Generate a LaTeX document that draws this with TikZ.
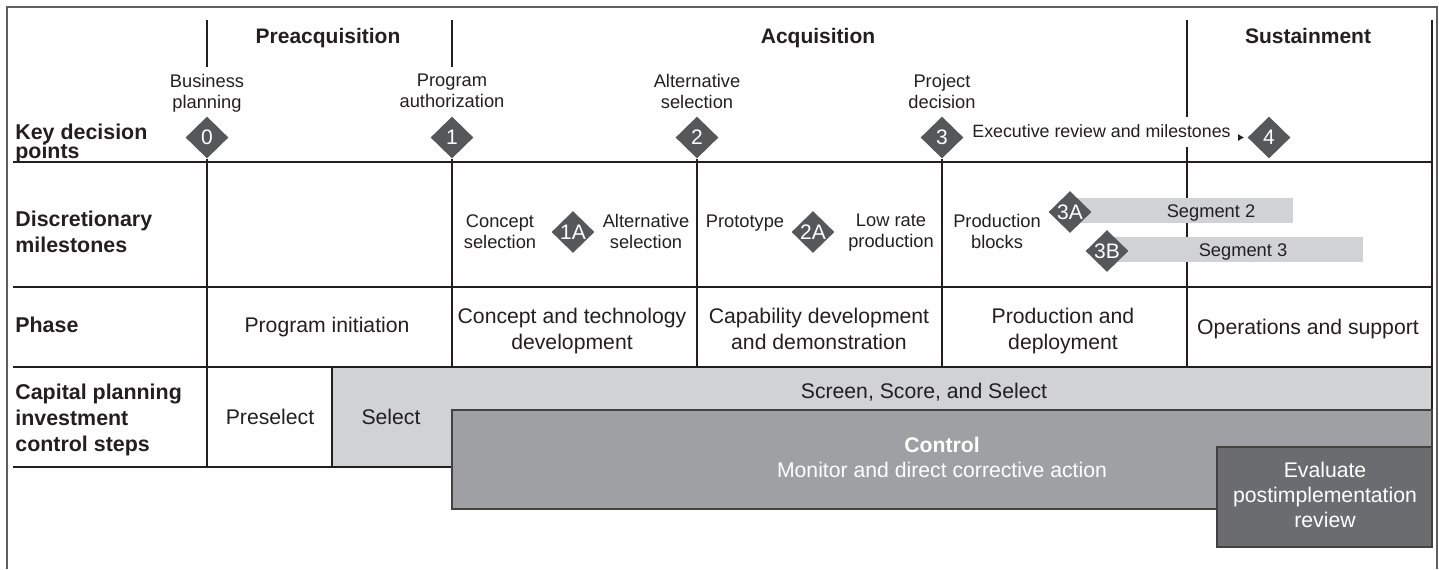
\documentclass[tikz,border=0pt]{standalone}
\usepackage{fontspec}
\setmainfont{Liberation Sans}
\usetikzlibrary{shapes.geometric, arrows.meta}

\definecolor{inkdark}{HTML}{231F20}
\definecolor{kdgray}{HTML}{565759}
\definecolor{barlight}{HTML}{D1D2D4}
\definecolor{ctrlgray}{HTML}{9FA0A3}
\definecolor{evalgray}{HTML}{6B6C6F}
\definecolor{framegray}{HTML}{5E5E5E}

\tikzset{
  gridline/.style={draw=inkdark, line width=0.6pt},
  boxline/.style={draw=inkdark!85, line width=0.7pt},
  kd/.style={diamond, fill=kdgray, text=white, inner sep=0pt, minimum width=21.5pt, minimum height=21pt, font=\fontsize{10.5}{12}\selectfont},
  rowlabel/.style={anchor=north west, align=left, inner sep=0pt, font=\fontsize{10.7}{13}\selectfont\bfseries},
  header/.style={anchor=base, inner sep=0pt, font=\fontsize{10.5}{12}\selectfont\bfseries},
  kdlabel/.style={anchor=north, align=center, inner sep=0pt, font=\fontsize{9.15}{10.5}\selectfont},
  phasetext/.style={anchor=north, align=center, inner sep=0pt, font=\fontsize{10.6}{13}\selectfont},
}

\begin{document}
\begin{tikzpicture}[x=0.5pt, y=-0.5pt, text=inkdark]
\useasboundingbox (0,0) rectangle (1439,569);

% frame
\draw[framegray, line width=1pt] (7,569) -- (7,7) -- (1437,7) -- (1437,569);

% table rules
\coordinate (phasebot) at (0,367);
\coordinate (cpicbot) at (0,467);
\foreach \y in {162,287,367}
  \draw[gridline] (13,\y) -- (1432,\y);
\draw[gridline] (13,467) -- (332,467);
\foreach \x in {207,452}
  \draw[gridline] (\x,20) -- (\x,67);
\draw[gridline] (1187,20) -- (1187,367);
\draw[gridline] (1432,20) -- (1432,367);

% headers
\node[header] (preacq) at (328,43) {Preacquisition};
\node[header] (acq) at (818,43) {Acquisition};
\node[header] (sustain) at (1308,43) {Sustainment};

% row labels
\node[rowlabel, anchor=base west] (kdrow) at (15,139) {Key decision};
\node[rowlabel, anchor=base west] (kdrowb) at (15,158) {points};
\node[rowlabel] (dmrow) at (15,211) {Discretionary\\milestones};
\node[rowlabel, anchor=base west] (phaserow) at (15,332) {Phase};
\node[rowlabel] (cpicrow) at (15,384) {Capital planning\\investment\\control steps};

% key decision points
\node[kd] (kd0) at (207,137.5) {0};
\node[kd] (kd1) at (452,137.5) {1};
\node[kd] (kd2) at (697,137.5) {2};
\node[kd] (kd3) at (942,137.5) {3};
\node[kd] (kd4) at (1269,137.5) {4};

\node[kdlabel] (kd0t) at (207,74) {Business\\planning};
\node[kdlabel] (kd1t) at (452,74) {Program\\authorization};
\node[kdlabel] (kd2t) at (697,74) {Alternative\\selection};
\node[kdlabel] (kd3t) at (942,74) {Project\\decision};

\draw[gridline] (kd0.south) -- (kd0 |- cpicbot);
\draw[gridline] (kd1.south) -- (kd1 |- phasebot);
\draw[gridline] (kd2.south) -- (kd2 |- phasebot);
\draw[gridline] (kd3.south) -- (kd3 |- phasebot);

\node[anchor=base west, fill=white, inner xsep=1pt, inner ysep=3.5pt, text depth=1.5pt, font=\fontsize{8.9}{10}\selectfont] (exec) at (970,137) {Executive review and milestones};
\draw[inkdark, -{Latex[length=3pt,width=3.5pt]}, shorten <=2.5pt, shorten >=1.5pt] (exec.base east |- kd4.west) -- (kd4.west);

% discretionary milestones
\fill[barlight] (1077,198) rectangle (1293,223);
\fill[barlight] (1107,237) rectangle (1363,262);
\node[kdlabel, anchor=base] (seg2) at (1211,217) {Segment 2};
\node[kdlabel, anchor=base] (seg3) at (1243,256) {Segment 3};

\node[kdlabel] (m1al) at (500,214) {Concept\\selection};
\node[kd] (m1a) at (573,232) {1A};
\node[kdlabel] (m1ar) at (646,214) {Alternative\\selection};
\node[kdlabel, anchor=base] (m2al) at (745,227) {Prototype};
\node[kd] (m2a) at (813,232) {2A};
\node[kdlabel] (m2ar) at (891,214) {Low rate\\production};
\node[kdlabel] (m3l) at (997,214) {Production\\blocks};
\node[kd] (m3a) at (1070,212) {3A};
\node[kd] (m3b) at (1107,251) {3B};

% phase
\node[phasetext, anchor=base] (ph0) at (327,332) {Program initiation};
\node[phasetext] (ph1) at (572,308) {Concept and technology\\development};
\node[phasetext] (ph2) at (819,308) {Capability development\\and demonstration};
\node[phasetext] (ph3) at (1063,308) {Production and\\deployment};
\node[phasetext, anchor=base] (ph4) at (1308,334) {Operations and support};

% capital planning and investment control
\draw[gridline, fill=barlight] (332,367) rectangle (1432,467);
\node[phasetext, anchor=base] (presel) at (270,424) {Preselect};
\node[phasetext, anchor=base] (sel) at (391,424) {Select};
\node[phasetext, anchor=base] (sss) at (924,398) {Screen, Score, and Select};

\draw[boxline, fill=ctrlgray] (452,410) rectangle (1432,509);
\node[phasetext, text=white, font=\fontsize{10.6}{12.5}\selectfont] (ctrl) at (942,437) {\textbf{Control}\\Monitor and direct corrective action};

\draw[boxline, fill=evalgray] (1217,447) rectangle (1432,547);
\node[phasetext, text=white, font=\fontsize{10.6}{12.5}\selectfont] (evalr) at (1325,462) {Evaluate\\postimplementation\\review};

\end{tikzpicture}
\end{document}
